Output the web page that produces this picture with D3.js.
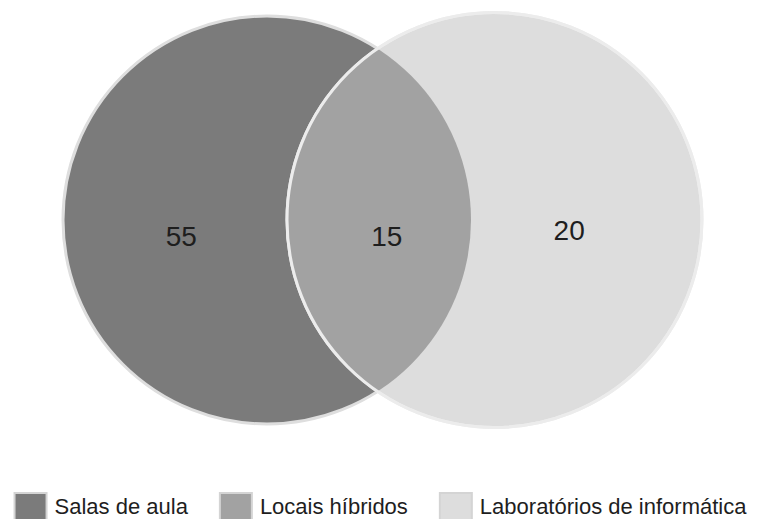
<!DOCTYPE html>
<html>
<head>
<meta charset="utf-8">
<script src="https://cdn.jsdelivr.net/npm/d3@7"></script>
<style>
  html, body { margin: 0; padding: 0; background: #fff; }
  svg { display: block; font-family: "Liberation Sans", Arial, Helvetica, sans-serif; }
</style>
</head>
<body>
<svg id="chart" width="761" height="519"></svg>
<script>
// Sets of the diagram and the counts shown in each region
const sets = ["Salas de aula", "Laboratórios de informática"];
const regionNames = ["Salas de aula", "Locais híbridos", "Laboratórios de informática"];
const regionValues = [55, 15, 20];
const regionColors = ["#7b7b7b", "#a2a2a2", "#dddddd"];

// Layout of the two circles
const layout = { cy: 220, radii: [204, 207.5], centers: [267, 494.5] };

const svg = d3.select("#chart");
const W = +svg.attr("width");

const x = d3.scaleOrdinal().domain(sets).range(layout.centers);
const r = d3.scaleOrdinal().domain(sets).range(layout.radii);
const fill = d3.scaleOrdinal().domain(regionNames).range(regionColors);

const defs = svg.append("defs");
defs.append("clipPath").attr("id", "clip-left")
  .append("circle")
  .attr("cx", x(sets[0])).attr("cy", layout.cy).attr("r", r(sets[0]));

const g = svg.append("g");

// Left set
g.append("circle")
  .attr("cx", x(sets[0])).attr("cy", layout.cy).attr("r", r(sets[0]))
  .attr("fill", fill(regionNames[0]))
  .attr("stroke", "#dedede").attr("stroke-width", 3);

// Right set
g.append("circle")
  .attr("cx", x(sets[1])).attr("cy", layout.cy).attr("r", r(sets[1]))
  .attr("fill", fill(regionNames[2]))
  .attr("stroke", "#eeeeee").attr("stroke-width", 3);

// Overlap
g.append("circle")
  .attr("cx", x(sets[1])).attr("cy", layout.cy).attr("r", r(sets[1]))
  .attr("clip-path", "url(#clip-left)")
  .attr("fill", fill(regionNames[1]));

// Outline of the right set over the overlap
g.append("circle")
  .attr("cx", x(sets[1])).attr("cy", layout.cy).attr("r", r(sets[1]))
  .attr("fill", "none")
  .attr("stroke", "#ececec").attr("stroke-width", 3);

// Region labels
const c0 = x(sets[0]), c1 = x(sets[1]);
const labelPos = [
  { x: c0 - 0.42 * r(sets[0]), y: layout.cy + 26 },
  { x: (c0 + c1) / 2 + 6, y: layout.cy + 26 },
  { x: c1 + 0.36 * r(sets[1]), y: layout.cy + 20 }
];
g.selectAll("text.value")
  .data(regionValues)
  .join("text")
  .attr("class", "value")
  .attr("x", (d, i) => labelPos[i].x)
  .attr("y", (d, i) => labelPos[i].y)
  .attr("text-anchor", "middle")
  .attr("font-size", 28)
  .attr("fill", "#1e1e1e")
  .text(d => d);

// Legend
const sw = 32, textGap = 8, itemGap = 32, legendY = 493;
const legend = svg.append("g");
const items = legend.selectAll("g.item")
  .data(regionNames)
  .join("g").attr("class", "item");
items.append("rect")
  .attr("width", sw).attr("height", sw)
  .attr("fill", d => fill(d))
  .attr("stroke", "#d4d4d4").attr("stroke-width", 2);
items.append("text")
  .attr("x", sw + textGap)
  .attr("y", 21)
  .attr("font-size", 22)
  .attr("fill", "#1e1e1e")
  .text(d => d);

const widths = [];
items.each(function () {
  widths.push(sw + textGap + d3.select(this).select("text").node().getComputedTextLength());
});
const total = d3.sum(widths) + itemGap * (widths.length - 1);
let cursor = (W - total) / 2;
items.attr("transform", (d, i) => {
  const t = `translate(${cursor},${legendY})`;
  cursor += widths[i] + itemGap;
  return t;
});
</script>
</body>
</html>
